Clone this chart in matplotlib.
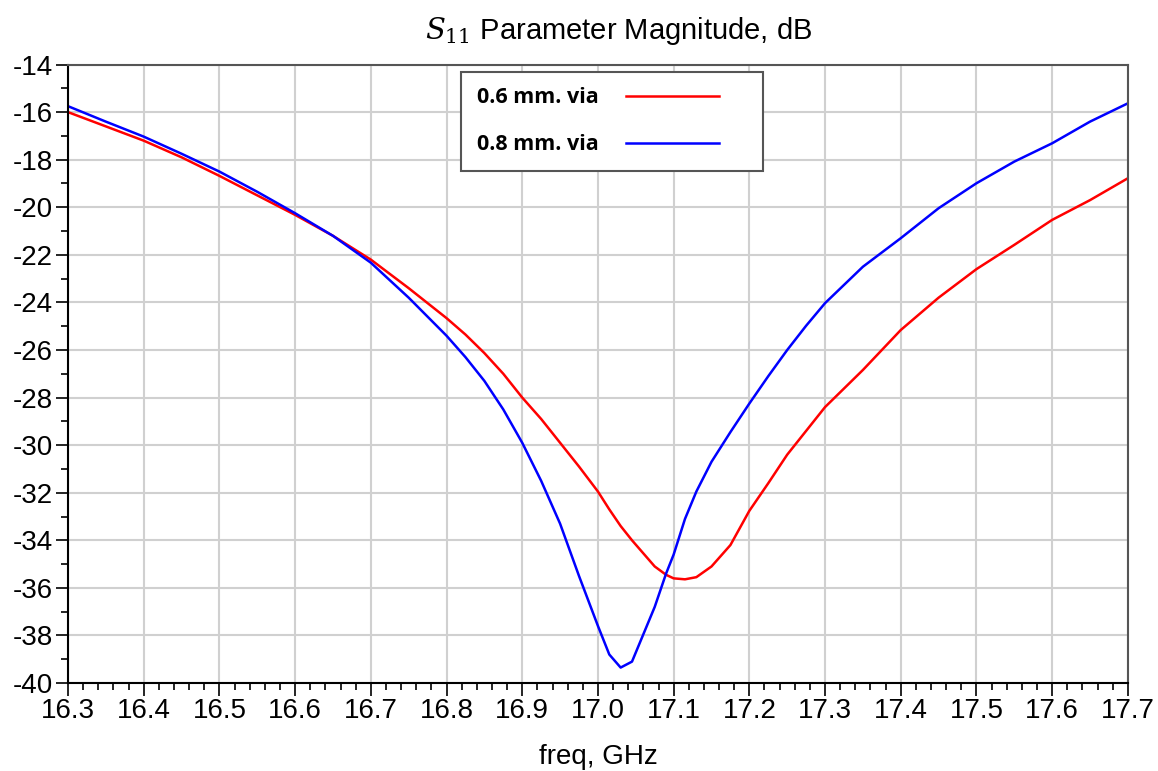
import matplotlib
matplotlib.use("Agg")
import matplotlib.pyplot as plt
from matplotlib.ticker import MultipleLocator

# S11 magnitude (dB)
freq_ghz = [16.3, 16.35, 16.4, 16.45, 16.5, 16.55, 16.6, 16.65, 16.7, 16.75,
            16.8, 16.825, 16.85, 16.875, 16.9, 16.925, 16.95, 16.975, 17.0,
            17.015, 17.03, 17.045, 17.06, 17.075, 17.09, 17.1, 17.115, 17.13,
            17.15, 17.175, 17.2, 17.225, 17.25, 17.275, 17.3, 17.35, 17.4,
            17.45, 17.5, 17.55, 17.6, 17.65, 17.7]
s11_via_06 = [-16.0, -16.6, -17.2, -17.9, -18.68, -19.5, -20.32, -21.2,
              -22.2, -23.4, -24.66, -25.35, -26.13, -27.0, -28.0, -28.9,
              -29.9, -30.9, -31.95, -32.7, -33.4, -34.0, -34.55, -35.1,
              -35.45, -35.6, -35.64, -35.55, -35.1, -34.2, -32.76, -31.6,
              -30.4, -29.4, -28.4, -26.84, -25.16, -23.8, -22.6, -21.58,
              -20.53, -19.7, -18.78]
s11_via_08 = [-15.75, -16.4, -17.03, -17.75, -18.5, -19.35, -20.25, -21.2,
              -22.33, -23.8, -25.4, -26.3, -27.3, -28.5, -29.9, -31.5,
              -33.3, -35.5, -37.6, -38.8, -39.35, -39.1, -37.95, -36.8,
              -35.4, -34.6, -33.1, -31.95, -30.7, -29.45, -28.25, -27.1,
              -26.0, -24.98, -24.03, -22.5, -21.3, -20.04, -18.99, -18.08,
              -17.31, -16.4, -15.63]
series_labels = ["0.6 mm. via", "0.8 mm. via"]

plt.rcParams['font.family'] = ['Liberation Sans', 'DejaVu Sans']
plt.rcParams['mathtext.fontset'] = 'dejavuserif'

fig = plt.figure(figsize=(11.58, 7.71), dpi=100)
ax = fig.add_axes([0.0587, 0.1141, 0.9153, 0.8022])

ax.plot(freq_ghz, s11_via_06, color='#ff0000', lw=1.8, label=series_labels[0])
ax.plot(freq_ghz, s11_via_08, color='#0000ff', lw=1.8, label=series_labels[1])

ax.set_xlim(16.3, 17.7)
ax.set_ylim(-40, -14)
ax.xaxis.set_major_locator(MultipleLocator(0.1))
ax.xaxis.set_minor_locator(MultipleLocator(0.02))
ax.yaxis.set_major_locator(MultipleLocator(2))
ax.yaxis.set_minor_locator(MultipleLocator(1))
ax.set_xticklabels([f"{v:.1f}" for v in ax.get_xticks()])
ax.set_yticklabels([f"{v:.0f}" for v in ax.get_yticks()])

ax.tick_params(which='major', direction='out', length=9, width=1.2,
               labelsize=20, pad=2, color='black')
ax.tick_params(which='minor', direction='out', length=5, width=1.2)
ax.grid(True, which='major', color='#d0d0d0', lw=1.5)
ax.set_axisbelow(True)

for side in ['left', 'bottom']:
    ax.spines[side].set_linewidth(1.5)
    ax.spines[side].set_color('black')
for side in ['top', 'right']:
    ax.spines[side].set_linewidth(1.5)
    ax.spines[side].set_color('#555555')

ax.set_xlabel("freq, GHz", fontsize=20, labelpad=14)
fig.text(0.534, 0.96, r"$S_{11}$ Parameter Magnitude, dB", fontsize=21,
         ha='center', va='center')

# text left, line right, like the simulator's legend box
leg = ax.legend(loc='upper left', bbox_to_anchor=(0.398, 0.777, 0.2608, 0.13),
                bbox_transform=fig.transFigure, borderaxespad=0, mode='expand',
                markerfirst=False, fancybox=False, framealpha=1,
                edgecolor='#555555', handlelength=4.3, handletextpad=1.3,
                labelspacing=1.19, borderpad=0.73,
                prop={'family': 'Open Sans', 'weight': 'bold', 'size': 15.5})
leg.get_frame().set_linewidth(1.5)

fig.savefig("out.png", dpi=100)
